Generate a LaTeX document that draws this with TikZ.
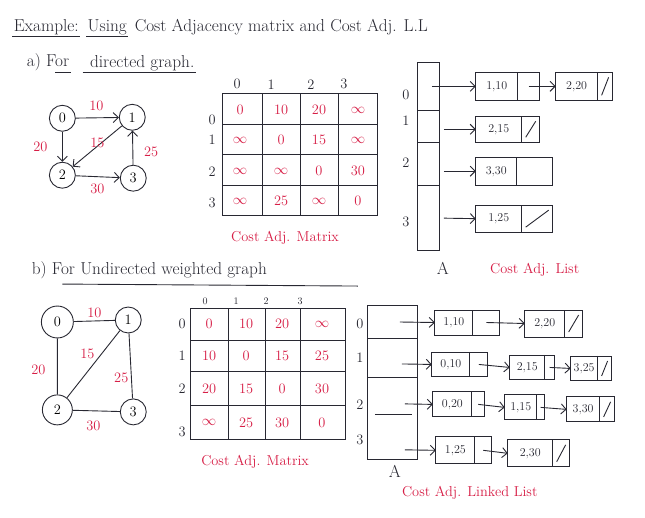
\documentclass[tikz,border=0pt]{standalone}
\usetikzlibrary{arrows.meta}
\definecolor{ink}{RGB}{40,40,50}
\definecolor{pen}{RGB}{215,30,70}
\tikzset{
 x=1pt,y=-1pt,
 every path/.style={draw=ink,line width=0.9pt},
 vtx/.style={circle,draw=ink,line width=0.9pt,minimum size=26pt,inner sep=0pt,font=\Large},
 wt/.style={text=pen,font=\Large},
 ent/.style={text=pen,font=\Large},
 lbl/.style={text=ink,font=\Large},
 cl/.style={text=ink,font=\large},
 hd/.style={text=ink,font=\LARGE,inner sep=1pt},
 arr/.style={-{Straight Barb[length=5pt]},draw=ink,line width=0.9pt},
}
% list cell: name, x1, xsep, x2, y1, y2, text
\newcommand\lcell[7]{%
 \draw (#2,#5) rectangle (#4,#6); \draw (#3,#5) -- (#3,#6);
 \node[cl] at ({(#2+#3)/2},{(#5+#6)/2}) {#7};
 \coordinate (#1w) at (#2,{(#5+#6)/2});
 \coordinate (#1p) at ({(#3+#4)/2},{(#5+#6)/2});}
\newcommand\lend[7]{\lcell{#1}{#2}{#3}{#4}{#5}{#6}{#7}%
 \draw ({#3+4},{#6-5}) -- ({#4-4},{#5+5});}
\begin{document}
\begin{tikzpicture}
\useasboundingbox (0,0) rectangle (645,517);
\fill[white] (0,0) rectangle (645,517);
\node[hd,anchor=south west] (t1) at (12,36) {Example:};
\node[hd,anchor=south west] (t2) at ([xshift=6pt]t1.south east) {Using};
\node[hd,anchor=south west] (t3) at ([xshift=5pt]t2.south east) {Cost Adjacency matrix and Cost Adj. L.L};
\draw (t1.south west) -- (t1.south east) (t2.south west) -- (t2.south east);
\node[hd,anchor=south west] (a1h) at (25,72) {a) For};
\node[hd,anchor=south west] (a2h) at ([xshift=18pt]a1h.south east) {directed graph.};
\draw ([xshift=30pt]a1h.south west) -- (a1h.south east) ([xshift=-6pt]a2h.south west) -- (a2h.south east);
% graph a
\node[vtx] (a0) at (62,118) {0};
\node[vtx] (a1) at (132,117) {1};
\node[vtx] (a2) at (62,175) {2};
\node[vtx] (a3) at (133,178) {3};
\draw[arr] (a0) -- (a1); \draw[arr] (a0) -- (a2); \draw[arr] (a1) -- (a2);
\draw[arr] (a3) -- (a1); \draw[arr] (a2) -- (a3);
\node[wt] (w01) at (96,106) {10}; \node[wt] (w02) at (40,147) {20};
\node[wt] (w12) at (97,143) {15}; \node[wt] (w31) at (151,152) {25};
\node[wt] (w23) at (97,189) {30};
% matrix a
\foreach \x in {222,262,300,338,378} \draw (\x,93) -- (\x,215);
\foreach \y in {93,124,154,185,215} \draw (222,\y) -- (378,\y);
\foreach \c/\x in {0/237,1/271,2/311,3/344} \node[lbl] at (\x,84) {\c};
\foreach \r/\y in {0/120,1/139,2/172,3/203} \node[lbl] at (212,\y) {\r};
\foreach \row/\y in {{0,10,20,$\infty$}/110,{$\infty$,0,15,$\infty$}/140,{$\infty$,$\infty$,0,30}/171,{$\infty$,25,$\infty$,0}/201}{
 \foreach \v [count=\i] in \row {
  \pgfmathsetmacro\xx{{240,281,319,358}[\i-1]}
  \node[ent] at (\xx,\y) {\v};}}
\node[wt] (capa) at (285,238) {Cost Adj. Matrix};
% list a
\draw (418,62) rectangle (440,250);
\draw (418,110) -- (440,110) (418,142) -- (440,142) (418,185) -- (440,185);
\foreach \r/\y in {0/95,1/120,2/162,3/222} \node[lbl] at (406,\y) {\r};
\lcell{a00}{476}{518}{540}{72}{100}{1,10}
\lend{a01}{556}{598}{613}{72}{100}{2,20}
\lend{a10}{476}{522}{540}{116}{142}{2,15}
\lcell{a20}{476}{517}{553}{157}{185}{3,30}
\lend{a30}{476}{522}{553}{205}{232}{1,25}
\draw[arr] (432,86) -- (a00w); \draw[arr] (a00p) -- (a01w);
\draw[arr] (444,129) -- (a10w); \draw[arr] (444,171) -- (a20w); \draw[arr] (444,218) -- (a30w);
\node[hd] (Aa) at (443,268) {A};
\node[wt] (capla) at (535,270) {Cost Adj. List};
% part b
\node[hd,anchor=west] (hb) at (30,270) {b) For Undirected weighted graph};
\draw (62,284) -- (358,286);
\node[vtx,minimum size=32pt] (b0) at (57,322) {0};
\node[vtx] (b1) at (128,320) {1};
\node[vtx,minimum size=30pt] (b2) at (57,410) {2};
\node[vtx] (b3) at (133,412) {3};
\draw (b0) -- (b1) (b0) -- (b2) (b1) -- (b2) (b1) -- (b3) (b2) -- (b3);
\node[wt] (v01) at (94,313) {10}; \node[wt] (v02) at (38,370) {20};
\node[wt] (v12) at (87,354) {15}; \node[wt] (v13) at (121,378) {25};
\node[wt] (v23) at (93,426) {30};
% matrix b
\foreach \x in {190,228,265,300,345} \draw (\x,308) -- (\x,440);
\foreach \y in {308,340,372,406,440} \draw (190,\y) -- (345,\y);
\foreach \c/\x in {0/205,1/236,2/266,3/300} \node[lbl,font=\normalsize] at (\x,301) {\c};
\foreach \r/\y in {0/324,1/356,2/389,3/432} \node[lbl] at (182,\y) {\r};
\foreach \row/\y in {{0,10,20,$\infty$}/324,{10,0,15,25}/356,{20,15,0,30}/389,{$\infty$,25,30,0}/423}{
 \foreach \v [count=\i] in \row {
  \pgfmathsetmacro\xx{{209,246,282,322}[\i-1]}
  \node[ent] at (\xx,\y) {\v};}}
\node[wt] (capb) at (255,462) {Cost Adj. Matrix};
% list b
\draw (368,305) rectangle (418,460);
\draw (368,338) -- (418,338) (368,378) -- (418,378) (375,415) -- (412,415);
\foreach \r/\y in {0/324,1/358,2/405,3/440} \node[lbl] at (360,\y) {\r};
\lcell{b00}{435}{473}{500}{310}{335}{1,10}
\lend{b01}{525}{565}{583}{310}{337}{2,20}
\lcell{b10}{432}{470}{488}{352}{377}{0,10}
\lcell{b11}{510}{545}{555}{355}{380}{2,15}
\lend{b12}{571}{598}{612}{356}{381}{3,25}
\lcell{b20}{433}{472}{485}{392}{417}{0,20}
\lcell{b21}{505}{537}{545}{395}{420}{1,15}
\lend{b22}{567}{600}{615}{397}{422}{3,30}
\lcell{b30}{436}{475}{492}{437}{464}{1,25}
\lend{b31}{508}{553}{570}{440}{467}{2,30}
\draw[arr] (400,322) -- (b00w); \draw[arr] (402,364) -- (b10w);
\draw[arr] (405,404) -- (b20w); \draw[arr] (405,450) -- (b30w);
\draw[arr] (b00p) -- (b01w);
\draw[arr] (b10p) -- (b11w); \draw[arr] (b11p) -- (b12w);
\draw[arr] (b20p) -- (b21w); \draw[arr] (b21p) -- (b22w);
\draw[arr] (b30p) -- (b31w);
\node[hd] (Ab) at (395,472) {A};
\node[wt] (caplb) at (470,493) {Cost Adj. Linked List};
\end{tikzpicture}
\end{document}
